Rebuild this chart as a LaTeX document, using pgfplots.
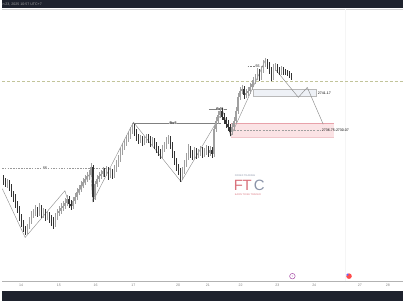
\documentclass[border=0pt]{standalone}
\usepackage{pgfplots}
\pgfplotsset{compat=1.18}
\usepackage{pgfplotstable}
\usepackage{fontspec}
\setmainfont{Liberation Sans}
\definecolor{darkbar}{HTML}{1E222D}
\definecolor{upc}{HTML}{A0A0A0}
\definecolor{dnc}{HTML}{333333}
\definecolor{zz}{HTML}{8A8A8A}
\definecolor{pinkfill}{HTML}{FBE3E5}
\definecolor{pinkline}{HTML}{E8A2AA}
\definecolor{boxfill}{HTML}{EEF1F6}
\definecolor{olivel}{HTML}{C2C49A}
\definecolor{ftcred}{HTML}{D9727C}
\definecolor{ftcgray}{HTML}{8A93A8}
\pgfplotstableread{
x o c h l d
1 180 182 176 186 1
3 182 185 179 188 1
5 185 183 180 189 0
7 183 188 181 192 1
9 188 195 185 198 1
11 195 198 192 203 1
13 198 205 195 209 1
15 205 210 202 214 1
17 210 218 207 222 1
19 218 225 215 229 1
21 225 230 221 234 1
23 230 233 227 237 1
25 233 228 225 236 0
27 228 222 218 231 0
29 222 216 212 225 0
31 216 214 210 219 0
33 214 212 206 217 0
35 212 214 208 218 1
37 214 210 204 217 0
39 210 215 206 219 1
41 215 213 209 219 0
43 213 218 210 222 1
45 218 216 212 221 0
47 216 220 213 224 1
49 220 222 216 227 1
51 222 226 218 231 1
53 226 218 214 229 0
55 218 214 210 221 0
57 214 212 207 217 0
59 212 209 204 215 0
61 209 207 202 212 0
63 207 204 199 210 0
65 204 200 196 207 0
67 200 205 197 209 1
69 205 207 201 211 1
71 207 202 198 210 0
73 202 198 194 205 0
75 198 193 189 201 0
77 193 190 186 196 0
79 190 186 182 193 0
81 186 183 179 189 0
83 183 180 176 186 0
85 180 177 173 183 0
87 177 176 171 181 0
89 176 168 164 178 0
91 168 198 166 203 1
93 198 185 182 201 0
95 185 180 176 188 0
97 180 177 173 183 0
99 177 175 171 180 0
101 175 172 168 178 0
103 172 174 169 178 1
105 174 171 167 177 0
107 171 176 168 181 1
109 176 173 169 179 0
111 173 176 170 180 1
113 176 170 166 179 0
115 170 165 161 173 0
117 165 160 156 168 0
119 160 153 149 163 0
121 153 148 144 156 0
123 148 144 140 151 0
125 144 140 136 147 0
127 140 137 133 143 0
129 137 132 128 140 0
131 132 127 124 135 0
133 127 133 125 137 1
135 133 138 130 142 1
137 138 141 135 145 1
139 141 140 136 144 0
141 140 143 137 147 1
143 143 141 137 146 0
145 141 139 135 144 0
147 139 140 135 144 1
149 140 144 137 148 1
151 144 142 138 147 0
153 142 146 139 150 1
155 146 150 143 154 1
157 150 153 147 157 1
159 153 156 150 160 1
161 156 150 146 159 0
163 150 147 143 153 0
165 147 142 138 150 0
167 142 139 136 145 0
169 139 146 137 150 1
171 146 155 143 159 1
173 155 162 152 166 1
175 162 168 159 172 1
177 168 172 165 176 1
179 172 178 169 183 1
181 178 172 168 181 0
183 172 165 161 175 0
185 165 158 154 168 0
187 158 150 145 161 0
189 150 155 147 159 1
191 155 157 151 161 1
193 157 152 148 160 0
195 152 156 149 160 1
197 156 154 150 159 0
199 154 151 147 157 0
201 151 155 148 159 1
203 155 153 149 158 0
205 153 150 146 156 0
207 150 154 147 158 1
209 154 151 147 157 0
211 151 155 148 159 1
213 155 130 127 158 0
215 130 122 118 133 0
217 122 116 112 125 0
219 116 112 108 119 0
221 112 118 109 121 1
223 118 121 114 125 1
225 121 125 118 129 1
227 125 128 121 132 1
229 128 133 125 137 1
231 133 128 124 136 0
233 128 122 118 131 0
235 122 112 108 125 0
237 112 98 94 115 0
239 98 92 88 101 0
241 92 90 86 95 0
243 90 96 87 100 1
245 96 94 90 99 0
247 94 92 88 97 0
249 92 88 84 95 0
251 88 85 81 91 0
253 85 82 78 88 0
255 82 78 74 85 0
257 78 72 68 81 0
259 72 78 69 82 1
261 78 70 66 81 0
263 70 64 60 73 0
265 64 62 58 67 0
267 62 65 59 69 1
269 65 70 62 74 1
271 70 78 67 82 1
273 78 68 64 81 0
275 68 67 63 71 0
277 67 70 64 73 1
279 70 72 67 75 1
281 72 70 66 75 0
283 70 72 67 76 1
285 72 73 69 76 1
287 73 74 70 77 1
289 74 76 71 79 1
291 76 79 73 81 1
}\candles
\newcommand{\tinyf}{\fontsize{3.6}{4}\selectfont}
\begin{document}
\begin{tikzpicture}
\begin{axis}[
  scale only axis, width=403pt, height=303pt,
  xmin=0, xmax=403, ymin=0, ymax=303, y dir=reverse,
  axis line style={draw=none}, xtick=\empty, ytick=\empty,
  clip=false,
]
% background elements
\fill[darkbar] (axis cs:0,0) rectangle (axis cs:403,8.5);
\draw[gray!35, line width=0.5pt] (axis cs:0,9) -- (axis cs:403,9);
\node[anchor=west, text=gray!70, inner sep=0pt, font=\tinyf] at (axis cs:0,4.3) {n 23, 2025 10:57 UTC+7};
\fill[darkbar] (axis cs:0,293) rectangle (axis cs:403,303);
\draw[gray!60, line width=0.7pt] (axis cs:0,283) -- (axis cs:403,283);
\draw[gray!8, line width=0.5pt] (axis cs:345,9.5) -- (axis cs:345,282.5);
% zones
\fill[pinkfill] (axis cs:230,124) rectangle (axis cs:334,138);
\draw[pinkline, line width=0.5pt] (axis cs:230,124) -- (axis cs:334,124);
\draw[pinkline!60, line width=0.4pt] (axis cs:230,138) -- (axis cs:334,138);
\draw[gray!75, dash pattern=on 2pt off 1.2pt, line width=0.35pt] (axis cs:230,131) -- (axis cs:321,131);
\node[anchor=west, inner sep=0.5pt, font=\tinyf] at (axis cs:321,131) {2736.75-2730.07};
\fill[boxfill] (axis cs:253,90) rectangle (axis cs:316,97);
\draw[gray!55, line width=0.4pt] (axis cs:253,90) rectangle (axis cs:316,97);
\node[anchor=west, inner sep=0.5pt, font=\tinyf] at (axis cs:317,93.5) {2741.17};
% price line
\draw[olivel, dash pattern=on 3pt off 2pt, line width=0.7pt] (axis cs:0,82) -- (axis cs:403,82);
% structure lines
\draw[gray!80, dash pattern=on 1.5pt off 1.2pt, line width=0.4pt] (axis cs:0,169) -- (axis cs:105,169);
\node[fill=white, inner sep=0.4pt, font=\tinyf] at (axis cs:43,169) {55};
\draw[gray, line width=0.4pt] (axis cs:132,124) -- (axis cs:220,124);
\node[fill=white, inner sep=0.4pt, font=\tinyf\bfseries] at (axis cs:172,124) {BoS};
\draw[gray, line width=0.4pt] (axis cs:208,110) -- (axis cs:226,110);
\node[fill=white, inner sep=0.4pt, font=\tinyf\bfseries] at (axis cs:219,110) {BoS};
\draw[gray, dash pattern=on 1.5pt off 1.2pt, line width=0.4pt] (axis cs:247,67) -- (axis cs:263,67);
\node[fill=white, inner sep=0.4pt, font=\tinyf] at (axis cs:257,67) {55};
% zigzag
\addplot[zz, line width=0.4pt] coordinates {(0,190) (23,239) (63,192) (68,208) (89,173) (91,203) (132,123) (180,183) (222,112) (230,137) (265,60)};
\addplot[zz, line width=0.45pt] coordinates {(275,70) (298,98) (307,88) (323,125)};
% candles
\addplot[draw=none, mark=none, restrict expr to domain={\thisrow{d}}{-0.5:0.5}, unbounded coords=discard,
  error bars/.cd, y dir=both, y explicit, error mark=none, error bar style={draw=upc, line width=0.3pt, solid}]
  table[x=x, y expr={(\thisrow{h}+\thisrow{l})/2}, y error expr={(\thisrow{l}-\thisrow{h})/2}] {\candles};
\addplot[draw=none, mark=none, restrict expr to domain={\thisrow{d}}{-0.5:0.5}, unbounded coords=discard,
  error bars/.cd, y dir=both, y explicit, error mark=none, error bar style={draw=upc, line width=0.9pt, solid}]
  table[x=x, y expr={(\thisrow{o}+\thisrow{c})/2}, y error expr={abs(\thisrow{o}-\thisrow{c})/2}] {\candles};
\addplot[draw=none, mark=none, restrict expr to domain={\thisrow{d}}{0.5:1.5}, unbounded coords=discard,
  error bars/.cd, y dir=both, y explicit, error mark=none, error bar style={draw=dnc, line width=0.3pt, solid}]
  table[x=x, y expr={(\thisrow{h}+\thisrow{l})/2}, y error expr={(\thisrow{l}-\thisrow{h})/2}] {\candles};
\addplot[draw=none, mark=none, restrict expr to domain={\thisrow{d}}{0.5:1.5}, unbounded coords=discard,
  error bars/.cd, y dir=both, y explicit, error mark=none, error bar style={draw=dnc, line width=0.9pt, solid}]
  table[x=x, y expr={(\thisrow{o}+\thisrow{c})/2}, y error expr={abs(\thisrow{o}-\thisrow{c})/2}] {\candles};
% logo
\node[anchor=west, inner sep=0pt, text=ftcred, font=\fontsize{15}{15}\selectfont] at (axis cs:233,187) {F\kern-0.5pt T};
\node[anchor=west, inner sep=0pt, text=ftcgray, font=\fontsize{15}{15}\selectfont] at (axis cs:253,187) {C};
\node[anchor=west, inner sep=0pt, text=ftcgray, font=\fontsize{2.5}{3}\selectfont] at (axis cs:234,177) {FOREX TRADING};
\node[anchor=west, inner sep=0pt, text=ftcred, font=\fontsize{2.5}{3}\selectfont] at (axis cs:234,195.5) {EARN TO BE TRADER};
% events
\draw[violet!70, line width=0.5pt, fill=white] (axis cs:292,278) circle (2.8pt);
\node[text=violet!70, inner sep=0pt, font=\fontsize{3}{3}\selectfont] at (axis cs:292,278) {+};
\fill[red!70] (axis cs:349,278) circle (2.8pt);
\fill[blue!60] (axis cs:347.5,276.5) circle (1.2pt);
% date labels
\node[text=gray, font=\tinyf] at (axis cs:19,287.5) {14};
\node[text=gray, font=\tinyf] at (axis cs:57,287.5) {15};
\node[text=gray, font=\tinyf] at (axis cs:94,287.5) {16};
\node[text=gray, font=\tinyf] at (axis cs:132,287.5) {17};
\node[text=gray, font=\tinyf] at (axis cs:177,287.5) {20};
\node[text=gray, font=\tinyf] at (axis cs:207,287.5) {21};
\node[text=gray, font=\tinyf] at (axis cs:240,287.5) {22};
\node[text=gray, font=\tinyf] at (axis cs:277,287.5) {23};
\node[text=gray, font=\tinyf] at (axis cs:314,287.5) {24};
\node[text=gray, font=\tinyf] at (axis cs:360,287.5) {27};
\node[text=gray, font=\tinyf] at (axis cs:388,287.5) {28};
\end{axis}
\end{tikzpicture}
\end{document}
